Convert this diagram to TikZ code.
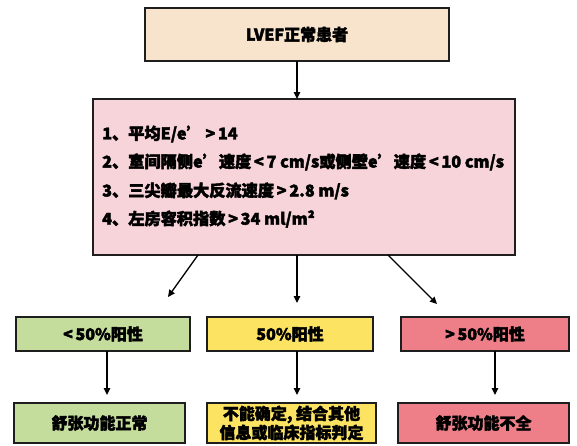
\documentclass[tikz,border=0pt]{standalone}
\usepackage{fontspec}
\setmainfont{Noto Sans CJK SC}[BoldFeatures={FakeBold=2.5}]
\usetikzlibrary{arrows.meta}
\definecolor{topc}{HTML}{F8E4CC}
\definecolor{pinkc}{HTML}{F6D4D9}
\definecolor{greenc}{HTML}{C5DD9C}
\definecolor{yellowc}{HTML}{FCE362}
\definecolor{redc}{HTML}{EE7F89}
\definecolor{edgec}{HTML}{1E1E1E}
\tikzset{
  boxr/.style={draw=edgec, line width=1.6pt},
  lbl/.style={font=\bfseries\fontsize{16}{19}\selectfont, inner sep=0pt, align=center},
  itm/.style={font=\bfseries\fontsize{16.2}{19}\selectfont, inner sep=0pt, anchor=west},
  conn/.style={draw=black, line width=1.3pt, -{Triangle[length=7pt,width=6.5pt]}}
}
\begin{document}
\begin{tikzpicture}[x=1pt,y=-1pt]
\useasboundingbox (0,0) rectangle (577,445);
% boxes
\draw[boxr, fill=topc] (145,8) rectangle (449,61);
\node[lbl] (top) at (297,34.5) {LVEF正常患者};
\coordinate (topS) at (297,61);
\draw[boxr, fill=pinkc] (93,99) rectangle (515,255);
\coordinate (pinkN) at (297,99);
\node[itm] (l1) at (102,134) {1、平均E/e’\,>\,14};
\node[itm] (l2) at (102,162) {2、室间隔侧e’速度\,<\,7 cm/s或侧壁e’速度\,<\,10 cm/s};
\node[itm] (l3) at (102,191) {3、三尖瓣最大反流速度\,>\,2.8 m/s};
\node[itm] (l4) at (102,219) {4、左房容积指数\,>\,34 ml/m²};
% row 1
\draw[boxr, fill=greenc] (16,317) rectangle (190,351);
\node[lbl] (g1) at (103,334) {<\,50\%阳性};
\draw[boxr, fill=yellowc] (207,317) rectangle (373,351);
\node[lbl] (y1) at (290,334) {50\%阳性};
\draw[boxr, fill=redc] (401,317) rectangle (569,351);
\node[lbl] (r1) at (485,334) {>\,50\%阳性};
% row 2
\draw[boxr, fill=greenc] (14,403) rectangle (185,443);
\node[lbl] (g2) at (99.5,423) {舒张功能正常};
\draw[boxr, fill=yellowc] (207,403) rectangle (376,443);
\node[lbl] (y2) at (291.5,423) {不能确定, 结合其他\\信息或临床指标判定};
\draw[boxr, fill=redc] (398,403) rectangle (569,443);
\node[lbl] (r2) at (483.5,423) {舒张功能不全};
% connector coordinates
\coordinate (pL) at (198,255);
\coordinate (pM) at (297,255);
\coordinate (pR) at (388,255);
\coordinate (eL) at (168,297);
\coordinate (eM) at (297,303);
\coordinate (eR) at (437,304);
\coordinate (gS) at (107,351); \coordinate (gE) at (107,395);
\coordinate (yS) at (297,351); \coordinate (yE) at (297,395);
\coordinate (rS) at (495,351); \coordinate (rE) at (495,395);
% connectors
\draw[conn] (topS) -- (pinkN);
\draw[conn] (pL) -- (eL);
\draw[conn] (pM) -- (eM);
\draw[conn] (pR) -- (eR);
\draw[conn] (gS) -- (gE);
\draw[conn] (yS) -- (yE);
\draw[conn] (rS) -- (rE);
\end{tikzpicture}
\end{document}
